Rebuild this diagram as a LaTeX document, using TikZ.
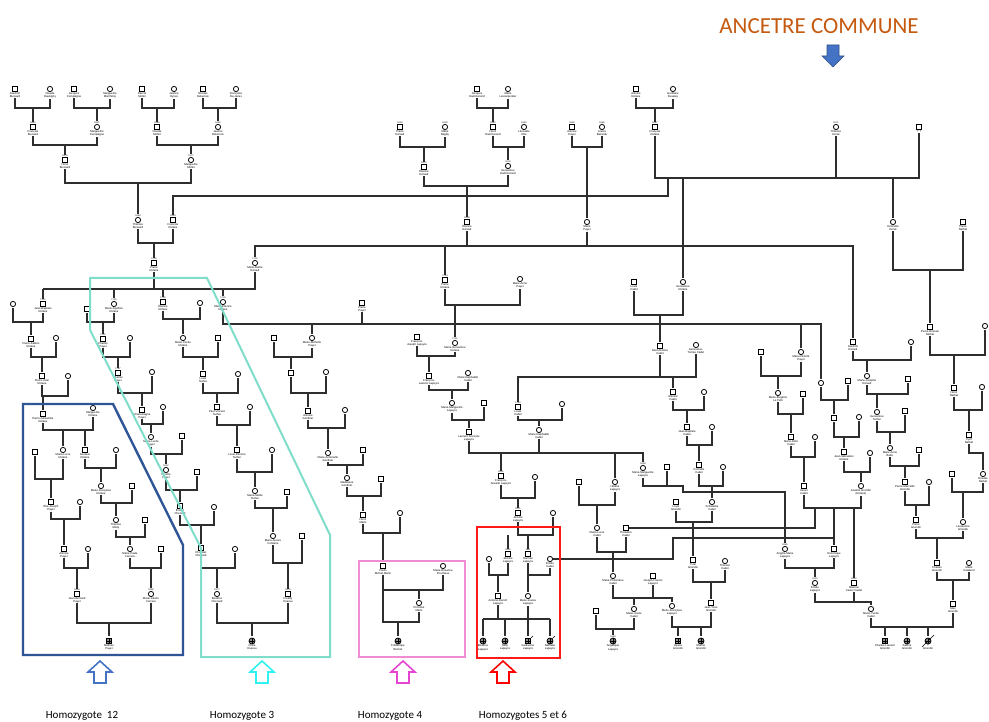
\documentclass[tikz,border=0pt]{standalone}
\usepackage{fontspec}
\setmainfont{Liberation Sans}
\newfontfamily\carl{Carlito}
\definecolor{lnc}{HTML}{2E2E2E}
\definecolor{bluebox}{HTML}{2F5597}
\definecolor{tealbox}{HTML}{7FDDC9}
\definecolor{pinkbox}{HTML}{F08CD4}
\definecolor{redbox}{HTML}{FF1A1A}
\definecolor{arrblue}{HTML}{4472C4}
\definecolor{arrcyan}{HTML}{2EF2F2}
\definecolor{arrmag}{HTML}{E545D0}
\definecolor{anc}{HTML}{C55A11}
\tikzset{
 sym/.style={draw=black, line width=0.8pt, fill=white, inner sep=0pt},
 male/.style={sym, rectangle, minimum size=4.8pt},
 female/.style={sym, circle, minimum size=5.2pt},
 crossed/.style={path picture={\draw[line width=0.5pt, black] (path picture bounding box.north) -- (path picture bounding box.south) (path picture bounding box.west) -- (path picture bounding box.east);}},
 amale/.style={male, minimum size=5.6pt, fill=black!45, crossed},
 afemale/.style={female, minimum size=6pt, fill=black!45, crossed},
 lab/.style={anchor=north, inner sep=0.25pt, align=center, font=\fontsize{2.8}{3.1}\selectfont},
 yr/.style={anchor=south, inner sep=0.25pt, font=\fontsize{2.3}{2.5}\selectfont},
 ln/.style={draw=lnc, line width=1.1pt},
}
\newcommand{\Per}[5]{\node[#1] (#2) at (#3) {}; \node[yr] (#2y) at (#2.north) {#4}; \node[lab] (#2l) at (#2.south) {#5};}
\newcommand{\Mar}[3]{\draw[ln] (#1l.south) -- (#1l.south |- 0,#3) -- (#2l.south |- 0,#3) -- (#2l.south);}
\newcommand{\Kid}[2]{\draw[ln] (#1y.north |- 0,#2) -- (#1y.north);}
\newcommand{\UpArrow}[2]{\draw[#2, line width=1.6pt, line join=miter] (#1,661) -- ++(12,11) -- ++(-6,0) -- ++(0,11) -- ++(-12,0) -- ++(0,-11) -- ++(-6,0) -- cycle;}
\begin{document}
\begin{tikzpicture}[x=1pt,y=-1pt]
\fill[white] (0,0) rectangle (989,722);
\useasboundingbox (0,0) rectangle (989,722);

% ---------- top generations (left)
\Per{male}{g1}{15,89}{}{Joachim\\Bussard}
\Per{female}{g2}{50,89}{}{Claude\\Daubigny}
\Per{male}{g3}{74,89}{}{Jacques\\Compiègne}
\Per{female}{g4}{110,89}{}{Marguerite\\Monthény}
\Per{male}{g5}{142,89}{}{Pascal\\Mollet}
\Per{female}{g6}{174,89}{}{Jeanne\\Hynes}
\Per{male}{g7}{203,89}{}{Nicolas\\Delacroix}
\Per{female}{g8}{236,89}{}{Françoise\\Da Janes}
\Per{male}{p1}{33,127}{1640}{François\\Bussard}
\Per{female}{p2}{97,127}{1641}{Marguerite\\Compiègne}
\Per{male}{p3}{157,127}{1646}{Claude\\Mollet}
\Per{female}{p4}{218,127}{1650}{Jeanne\\Delacroix}
\Per{male}{q1}{65,160}{1676}{Henri\\Bussard}
\Per{female}{q2}{191,160}{1677}{Marguerite\\Mollet}
\Per{female}{r1}{138,220}{1698}{Thérèse\\Bussard}
\Per{male}{r2}{173,220}{1693}{François\\Rolane}
\Mar{g1}{g2}{108}\Kid{p1}{108}
\Mar{g3}{g4}{108}\Kid{p2}{108}
\Mar{g5}{g6}{108}\Kid{p3}{108}
\Mar{g7}{g8}{108}\Kid{p4}{108}
\Mar{p1}{p2}{145}\Kid{q1}{145}
\Mar{p3}{p4}{145}\Kid{q2}{145}
\Mar{q1}{q2}{183}\Kid{r1}{183}

% ---------- top generations (centre / right)
\Per{male}{h1}{400,127}{1630}{Pierre\\Hérault}
\Per{female}{h2}{445,127}{1630}{Marie\\Bagby}
\Per{male}{h3}{477,89}{}{Jacques\\Dammerond}
\Per{female}{h4}{508,89}{}{Marie\\Lescarpentier}
\Per{male}{h5}{493,127}{1640}{Henri\\Dammerond}
\Per{female}{h6}{524,127}{1640}{Léocadie\\Otte}
\Per{male}{h7}{424,167}{1670}{Étienne\\Hérault}
\Per{female}{h8}{508,166}{1675}{Geneviève\\Dammerond}
\Per{male}{h9}{467,222}{1698}{Étienne\\Hérault}
\Per{male}{pa1}{572,127}{1660}{Antoine\\Payet}
\Per{female}{pa2}{602,127}{1665}{Louise\\Bazarde}
\Per{female}{pa3}{587,222}{}{Marie\\Payet}
\Per{male}{ro1}{636,89}{}{Antoine\\Rolane}
\Per{female}{ro2}{673,89}{}{Gordiane\\Rusaley}
\Per{male}{ro3}{655,127}{1667}{François\\Rolane}
\Per{female}{tv}{836,127}{1671}{Thérèse\\Hervé}
\Per{male}{xx}{919,127}{}{? ?}
\Per{female}{gen}{683,282}{}{Geneviève\\Rolane}
\Per{female}{hh}{893,222}{}{Henriette\\Hervé}
\Per{male}{pn}{963,222}{}{Pierre\\Nathal}
\Per{male}{prn}{930,327}{}{Pierre-Romain\\Nathal}
\Per{female}{prnw}{985,326}{}{}
\Mar{h3}{h4}{108}\Kid{h5}{108}
\Mar{h1}{h2}{147}\Kid{h7}{147}
\Mar{h5}{h6}{147}\Kid{h8}{147}
\Mar{h7}{h8}{186}\Kid{h9}{186}
\Mar{pa1}{pa2}{147}\Kid{pa3}{147}
\Mar{ro1}{ro2}{108}\Kid{ro3}{108}
\draw[ln] (ro3l.south) -- (ro3l.south |- 0,178) -- (xxl.south |- 0,178) -- (xxl.south);
\draw[ln] (tvl.south) -- (tvl.south |- 0,178);
\Kid{gen}{178}\Kid{hh}{178}
\coordinate (j1) at (668,178);
\draw[ln] (j1) -- (j1 |- 0,196) -- (r2y.north |- 0,196) -- (r2y.north);
\Mar{hh}{pn}{270}\Kid{prn}{270}

% ---------- Rolane family
\Per{male}{pr}{154,263}{1700}{Pierre\\Rolane}
\Per{female}{mb}{255,263}{1702}{Marie-Barbe\\Hérault}
\Per{male}{jb}{43,304}{1722}{Jean-Baptiste\\Rolane}
\Per{female}{ma}{114,304}{1725}{Marie-Apolline\\Rolane}
\Per{male}{er}{163,302}{1728}{Étienne\\Rolane}
\Per{female}{me}{223,302}{1730}{Marie-Étienne\\Rolane}
\Per{male}{pr2}{445,280}{1724}{Pierre\\Rolane}
\Per{male}{jh}{853,342}{}{Joachim\\Hérault}
\Mar{r1}{r2}{243}\Kid{pr}{243}
\draw[ln] (mby.north) -- (mby.north |- 0,246) -- (jhy.north |- 0,246) -- (jhy.north);
\draw[ln] (h9l.south) -- (h9l.south |- 0,246);
\draw[ln] (pa3l.south) -- (pa3l.south |- 0,246);
\Kid{pr2}{246}
\draw[ln] (prl.south) -- (prl.south |- 0,289);
\draw[ln] (mbl.south) -- (mbl.south |- 0,289) -- (jby.north |- 0,289);
\Kid{jb}{289}\Kid{ma}{289}\Kid{er}{289}\Kid{me}{289}

% ---------- column 1
\Per{female}{jbw}{13,304}{}{}
\Mar{jbw}{jb}{322}
\Per{male}{pf}{31,339}{}{Pierre-Fabien\\Rolane}
\Kid{pf}{322}
\Per{female}{pfw}{56,338}{}{}
\Mar{pf}{pfw}{357}
\Per{male}{pj}{42,376}{}{Pierre-Jean\\Rolane}
\Kid{pj}{357}
\Per{female}{pjw}{68,376}{}{}
\Mar{pj}{pjw}{396}
\Per{male}{pal}{43,414}{}{Pierre-Alexandre\\Rolane}
\Kid{pal}{396}
\Per{female}{mgr}{93,408}{}{Marguerite\\Rolane}
\Mar{pal}{mgr}{430}
\Per{female}{ml}{63,450}{}{Marie-Lucie\\Rolane}
\Per{male}{gr}{85,450}{}{Gustave\\Rolane}
\Kid{ml}{430}\Kid{gr}{430}
\Per{male}{mlh}{35,452}{}{}
\Mar{mlh}{ml}{479}
\Per{male}{ej}{51,502}{}{Élie-Joseph\\Payet}
\Kid{ej}{479}
\Per{female}{ejw}{80,502}{}{}
\Mar{ej}{ejw}{519}
\Per{male}{ap}{64,549}{}{Antoine\\Payet}
\Kid{ap}{519}
\Per{female}{apw}{88,549}{}{}
\Mar{ap}{apw}{568}
\Per{male}{jbp}{77,594}{1956}{Jean-Bernard\\Payet}
\Kid{jbp}{568}
\Per{female}{grw}{116,450}{}{}
\Mar{gr}{grw}{468}
\Per{female}{mfr}{101,486}{}{Marie-Françoise\\Rolane}
\Kid{mfr}{468}
\Per{male}{mfh}{132,486}{}{}
\Mar{mfr}{mfh}{503}
\Per{female}{tm}{116,520}{}{Thérèse\\Moity}
\Kid{tm}{503}
\Per{male}{tmh}{145,520}{}{}
\Mar{tm}{tmh}{537}
\Per{female}{mp}{130,549}{}{Marie-Paule\\Ferrara}
\Kid{mp}{537}
\Per{male}{mph}{161,549}{}{}
\Mar{mp}{mph}{568}
\Per{female}{mlf}{151,594}{1958}{Marie-Liliane\\Ferrara}
\Kid{mlf}{568}
\Mar{jbp}{mlf}{623}
\Per{amale}{mat}{109,641}{}{Mathieu\\Payet}
\Kid{mat}{623}

% ---------- column 2
\Per{male}{maw}{87,309}{}{}
\Mar{maw}{ma}{322}
\Per{male}{cp1}{103,339}{1752}{Charles\\Payet}
\Kid{cp1}{322}
\Per{female}{cp1w}{130,338}{}{}
\Mar{cp1}{cp1w}{357}
\Per{male}{cp2}{118,373}{1787}{Charles\\Payet}
\Kid{cp2}{357}
\Per{female}{cp2w}{152,372}{}{}
\Mar{cp2}{cp2w}{393}
\Per{male}{chp}{142,410}{}{Charlemagne\\Payet}
\Kid{chp}{393}
\Per{female}{chpw}{163,407}{}{}
\Mar{chp}{chpw}{424}
\Per{female}{mlp}{151,437}{}{Marie-Lucile\\Payet}
\Kid{mlp}{424}
\Per{male}{mlpw}{182,436}{}{}
\Mar{mlp}{mlpw}{454}
\Per{female}{lp}{166,470}{1907}{Lucette\\Payet}
\Kid{lp}{454}
\Per{male}{lph}{197,472}{}{}
\Mar{lp}{lph}{490}
\Per{male}{ec}{180,506}{}{Ernest\\Chenard}
\Kid{ec}{490}
\Per{female}{ecw}{214,507}{}{}
\Mar{ec}{ecw}{525}
\Per{male}{cc}{201,548}{}{Christian\\Chenard}
\Kid{cc}{525}
\Per{female}{ccw}{235,549}{}{}
\Mar{cc}{ccw}{568}
\Per{female}{bc}{217,594}{1977}{Béatrice\\Chenard}
\Kid{bc}{568}
\Per{male}{fh}{288,594}{1975}{Freddy\\Hoarau}
\Mar{bc}{fh}{623}
\Per{afemale}{cla}{252,641}{}{Clara\\Hoarau}
\Kid{cla}{623}

% ---------- column 3
\Per{female}{erw}{200,303}{}{}
\Mar{er}{erw}{319}
\Per{female}{mc}{183,338}{}{Marie-Cécile\\Rolane}
\Kid{mc}{319}
\Per{male}{mch}{218,338}{}{}
\Mar{mc}{mch}{357}
\Per{male}{lt}{203,374}{}{Louis\\Tacher}
\Kid{lt}{357}
\Per{female}{ltw}{238,374}{}{}
\Mar{lt}{ltw}{393}
\Per{male}{pv}{217,407}{}{Paul-Vincent\\Tacher}
\Kid{pv}{393}
\Per{female}{pvw}{250,407}{}{}
\Mar{pv}{pvw}{425}
\Per{male}{let}{237,450}{}{Louis-Étienne\\Tacher}
\Kid{let}{425}
\Per{female}{letw}{272,450}{}{}
\Mar{let}{letw}{472}
\Per{female}{mme}{255,491}{}{Marie-Mellie\\Tacher}
\Kid{mme}{472}
\Per{male}{mmeh}{287,492}{}{}
\Mar{mme}{mmeh}{508}
\Per{female}{maf}{273,536}{}{Marie-Aurore\\Fontaine}
\Kid{maf}{508}
\Per{male}{mafh}{302,536}{}{}
\Mar{maf}{mafh}{563}
\Kid{fh}{563}

% ---------- column 4 (Payet / Gonthier / Marin)
\Per{male}{pp}{362,303}{}{Pierre\\Payet}
\Per{female}{cx}{821,383}{}{}
\draw[ln] (mel.south) -- (mel.south |- 0,324) -- (cxy.north |- 0,324) -- (cxy.north);
\draw[ln] (ppl.south) -- (ppl.south |- 0,324);
\Per{female}{mmp}{312,338}{}{Marie-Michelle\\Payet}
\Per{female}{mgp}{801,352}{}{Marie-Félicité\\Payet}
\Kid{mmp}{324}\Kid{mgp}{324}
\Per{male}{mmph}{274,338}{}{}
\Mar{mmph}{mmp}{357}
\Per{male}{ag1}{291,373}{}{}
\Kid{ag1}{357}
\Per{female}{ag1w}{326,372}{}{}
\Mar{ag1}{ag1w}{393}
\Per{male}{ag}{308,411}{}{Antoine\\Gonthier}
\Kid{ag}{393}
\Per{female}{agw}{345,410}{}{}
\Mar{ag}{agw}{428}
\Per{female}{mag}{328,453}{}{Marie-Antoinette\\Gonthier}
\Kid{mag}{428}
\Per{male}{magh}{363,450}{}{}
\Mar{mag}{magh}{465}
\Per{female}{mdg}{347,478}{}{Madeleine\\Gonthier}
\Kid{mdg}{465}
\Per{male}{mdgh}{381,479}{}{}
\Mar{mdg}{mdgh}{496}
\Per{male}{hm}{363,515}{}{Henri\\Marin}
\Kid{hm}{496}
\Per{female}{hmw}{400,513}{}{}
\Mar{hm}{hmw}{533}
\Per{male}{fm}{383,566}{}{Fredo\\Michel-Marin}
\Kid{fm}{533}
\Per{female}{mrp}{443,566}{}{Marie-Rosanne\\Pouchaux}
\Mar{fm}{mrp}{590}
\Per{female}{cm}{419,603}{}{Christine\\Marin}
\Kid{cm}{590}
\Mar{fm}{cm}{622}
\Per{afemale}{fb}{398,641}{}{Frédérique\\Bonnet}
\Kid{fb}{622}

% ---------- Lapeyre
\Per{female}{map}{520,279}{}{Marie-Anne\\Payet}
\Mar{pr2}{map}{305}
\Per{female}{mgr2}{455,343}{1751}{Marie-Geneviève\\Rolane}
\Kid{mgr2}{305}
\Per{male}{fjl}{417,337}{}{François-\\Joseph Lapeyre}
\Mar{fjl}{mgr2}{356}
\Per{male}{fll}{429,376}{}{François-\\Laurent Lapeyre}
\Kid{fll}{356}
\Per{female}{mrc}{468,373}{}{Marie-Raphaëlle\\Cadet}
\Mar{fll}{mrc}{390}
\Per{female}{mml}{452,403}{}{Marie-Marguerite\\Lapeyre}
\Kid{mml}{390}
\Per{male}{mmlh}{484,403}{}{}
\Mar{mml}{mmlh}{420}
\Per{male}{lfl}{469,432}{}{Laurent-François\\Lapeyre}
\Kid{lfl}{420}
\Per{male}{lc2}{518,407}{1740}{Louis\\Cadet}
\Per{female}{lc2w}{562,404}{}{}
\Mar{lc2}{lc2w}{420}
\Per{female}{mrc2}{539,430}{}{Marie-Raphaëlle\\Cadet}
\Kid{mrc2}{420}
\Per{male}{fal}{501,476}{1801}{François-\\Anatole Lapeyre}
\Per{female}{hl}{615,482}{}{Hélène\\Lapeyre}
\Per{female}{mml2}{643,468}{1838}{Marie-Marguerite\\Lapeyre}
\Mar{lfl}{mrc2}{453}
\draw[ln] (mrc2l.south |- 0,453) -- (mml2y.north |- 0,453) -- (mml2y.north);
\Kid{fal}{453}\Kid{hl}{453}
\Per{female}{falw}{535,477}{}{}
\Mar{fal}{falw}{498}
\Per{male}{jl1}{518,513}{1871}{Jérôme\\Lapeyre}
\Kid{jl1}{498}
\Per{female}{jl1w}{553,513}{}{}
\Mar{jl1}{jl1w}{535}
\Per{male}{jl2}{508,554}{1901}{Jérôme\\Lapeyre}
\Per{male}{hrm}{528,554}{1911}{Herman\\Lapeyre}
\Kid{jl2}{535}\Kid{hrm}{535}
\Per{female}{ecd}{550,559}{}{Émilie\\Cadet}
\Per{female}{jl2w}{489,559}{}{}
\Mar{jl2w}{jl2}{575}
\Per{male}{abl}{498,596}{}{Antoine-Benoît\\Lapeyre}
\Kid{abl}{575}
\Mar{hrm}{ecd}{575}
\Per{female}{mlo}{528,596}{}{Marie-Louise\\Lapeyre}
\Kid{mlo}{575}
\Per{afemale}{bl}{483,641}{}{Béatrice\\Lapeyre}
\Per{afemale}{nl}{505,641}{}{Nelly\\Lapeyre}
\Per{amale}{gl}{528,641}{}{Guillaume\\Lapeyre}
\Per{afemale}{nth}{550,641}{}{Nathalie\\Lapeyre}
\Mar{abl}{mlo}{619}
\draw[ln] (bly.north |- 0,619) -- (nthy.north |- 0,619);
\Kid{bl}{619}\Kid{nl}{619}\Kid{gl}{619}\Kid{nth}{619}
\draw[line width=0.6pt] (gl) -- ++(5,-5);
\draw[line width=0.6pt] (nth) -- ++(5,-5);

% ---------- Cadet
\Per{male}{lc}{634,282}{}{Louis\\Cadet}
\Mar{lc}{gen}{315}
\Per{male}{na}{660,346}{}{Noël-Antoine\\Cadet}
\Kid{na}{315}
\Per{female}{gtc}{696,345}{}{Geneviève-\\Tomée Cadet}
\Mar{na}{gtc}{377}
\draw[ln] (nal.south |- 0,377) -- (lc2y.north |- 0,377) -- (lc2y.north);
\Per{male}{ac}{673,392}{}{Antoine\\Cadet}
\Kid{ac}{377}
\Per{female}{acw}{704,392}{}{}
\Mar{ac}{acw}{410}
\Per{male}{jbc}{687,427}{}{Jean-Baptiste\\Cadet}
\Kid{jbc}{410}
\Per{female}{jbcw}{712,427}{}{}
\Mar{jbc}{jbcw}{445}
\Per{male}{cc2}{699,465}{}{Corneille\\Cadet}
\Kid{cc2}{445}
\Per{female}{cc2w}{723,467}{}{}
\Mar{cc2}{cc2w}{486}
\Per{female}{sc}{712,502}{}{Scholastie\\Cadet}
\Kid{sc}{486}
\Per{male}{lg}{676,502}{}{Louis\\Grondin}
\Mar{lg}{sc}{522}
\Per{male}{yg}{693,560}{}{Yvan\\Grondin}
\Kid{yg}{522}
\Per{female}{tg}{725,561}{}{Thérèse\\Cadet}
\Mar{yg}{tg}{582}
\Per{male}{jyg}{711,603}{}{Jean-Yves\\Grondin}
\Kid{jyg}{582}
\Per{female}{mfl}{672,606}{}{Marie-Françoise\\Lapeyre}
\Mar{mfl}{jyg}{627}
\Per{amale}{ug}{678,641}{}{Ulysse\\Grondin}
\Per{afemale}{mg}{701,641}{}{Marine\\Grondin}
\Kid{ug}{627}\Kid{mg}{627}

\Per{male}{mmh2}{667,467}{}{}
\Mar{mml2}{mmh2}{486}
\Per{female}{aml}{785,549}{1895}{Angèle-Marie\\Lapeyre}
\coordinate (j2) at (683,486);
\draw[ln] (mmh2l.south |- 0,486) -- (j2) -- (j2 |- 0,492) -- (amly.north |- 0,492) -- (amly.north);
\Per{male}{dl}{834,549}{}{Dominique\\Lapeyre}
\Mar{aml}{dl}{568}
\Per{female}{el}{815,583}{1920}{Émilie\\Lapeyre}
\Kid{el}{568}
\Per{male}{mxc}{854,583}{1912}{Maurice\\Xavier Cadet}
\Per{female}{myc}{871,609}{}{Marie-Yvette\\Cadet}
\Mar{el}{mxc}{602}
\draw[ln] (mxcl.south |- 0,602) -- (mycy.north |- 0,602) -- (mycy.north);
\Per{male}{mg2}{953,604}{}{Max\\Grondin}
\Mar{myc}{mg2}{627}
\Per{amale}{clg}{885,641}{}{Charles-Laurent\\Grondin}
\Per{afemale}{sg}{907,641}{}{Sabine\\Grondin}
\Per{afemale}{xg}{928,641}{}{?\\Grondin}
\Kid{clg}{627}\Kid{sg}{627}\Kid{xg}{627}
\draw[line width=0.6pt] (xg) ++(-6,6) -- ++(12,-12);

% ---------- Xavier Cadet
\Per{male}{mfp}{761,352}{}{}
\Mar{mfp}{mgp}{376}
\Per{female}{meu}{778,393}{}{Marie-Eugénie\\Le Petit}
\Kid{meu}{376}
\Per{male}{meuh}{803,394}{}{}
\Mar{meu}{meuh}{414}
\Per{male}{mfc}{791,437}{}{Marie-Félix\\Cadet}
\Kid{mfc}{414}
\Per{female}{mfcw}{815,437}{}{}
\Mar{mfc}{mfcw}{457}
\Per{male}{xc}{804,486}{}{Xavier\\Cadet}
\Kid{xc}{457}
\Per{male}{cxh}{848,381}{}{}
\Mar{cx}{cxh}{400}
\Per{male}{s1}{834,418}{}{}
\Kid{s1}{400}
\Per{female}{s1w}{859,417}{}{}
\Mar{s1}{s1w}{437}
\Per{male}{jsr}{844,452}{}{Jean-Sébastien\\Rolane}
\Kid{jsr}{437}
\Per{female}{jsrw}{870,453}{}{}
\Mar{jsr}{jsrw}{472}
\Per{female}{agr}{861,486}{}{Anatole Grondin\\(Rolane)}
\Kid{agr}{472}
\Mar{xc}{agr}{508}
\Per{male}{hlh}{579,482}{}{}
\Mar{hlh}{hl}{505}
\Per{female}{mlc}{597,528}{}{Marie-Lucie\\Cadet}
\Kid{mlc}{505}
\Per{male}{tc}{626,528}{}{Théodore\\Cadet}
\Mar{mlc}{tc}{552}
\coordinate (j3) at (815,508);
\draw[ln] (j3) -- (j3 |- 0,528) -- (tc.east);
\coordinate (j4) at (834,508);
\draw[ln] (j4) -- (dly.north);
\coordinate (j5) at (673,538);
\draw[ln] (j4 |- 0,538) -- (j5) -- (j5 |- 0,559) -- (ecd.east);
\Kid{mxc}{508}
\Per{female}{mph2}{613,576}{}{Marie-Philomène\\Cadet}
\Kid{mph2}{552}
\Per{male}{jfl}{653,576}{}{Joseph-Francis\\Lapeyre}
\Mar{mph2}{jfl}{598}
\draw[ln] (jfll.south |- 0,598) -- (mfly.north |- 0,598) -- (mfly.north);
\Per{female}{mjc}{634,609}{}{Marie-Josée\\Cadet}
\Kid{mjc}{598}
\Per{male}{mjch}{596,611}{}{}
\Mar{mjch}{mjc}{629}
\Per{afemale}{angl}{613,641}{1983}{Angélique\\Lapeyre}
\Kid{angl}{629}

% ---------- Hérault / Grondin / Nathal (right)
\Per{female}{jhw}{911,342}{}{}
\Mar{jh}{jhw}{360}
\Per{female}{mjh}{867,376}{}{Marie-Joséphe\\Hérault}
\Kid{mjh}{360}
\Per{male}{mjhh}{908,379}{}{}
\Mar{mjh}{mjhh}{394}
\Per{female}{gt}{877,412}{}{Geneviève\\Tacher}
\Kid{gt}{394}
\Per{male}{gth}{905,411}{}{}
\Mar{gt}{gth}{432}
\Per{female}{mab}{890,448}{}{Marie-Anne\\Babo}
\Kid{mab}{432}
\Per{male}{mabh}{919,450}{}{}
\Mar{mab}{mabh}{466}
\Per{male}{pmg}{905,482}{}{Pierre-Marcellin\\Grondin}
\Kid{pmg}{466}
\Per{female}{pmgw}{929,482}{}{}
\Mar{pmg}{pmgw}{505}
\Per{male}{pg}{916,520}{}{Pierre\\Grondin}
\Kid{pg}{505}
\Per{female}{lgr}{963,522}{}{Laurentine\\Grondin}
\Mar{pg}{lgr}{538}
\Per{male}{cg}{937,563}{}{Charles\\Grondin}
\Kid{cg}{538}
\Per{female}{cgw}{969,563}{}{Marie\\Calabent}
\Mar{cg}{cgw}{580}
\Kid{mg2}{580}
\Mar{prn}{prnw}{355}
\Per{male}{hn}{954,388}{}{Henri\\Nathal}
\Kid{hn}{355}
\Per{female}{hnw}{982,387}{}{}
\Mar{hn}{hnw}{410}
\Per{male}{cn}{969,435}{}{Cyril\\Nathal}
\Kid{cn}{410}
\Per{female}{rn}{983,474}{}{Rosalie\\Nathal}
\draw[ln] (cnl.south) -- (cnl.south |- 0,453) -- (rny.north |- 0,453) -- (rny.north);
\Per{male}{lgh}{952,474}{}{}
\Mar{lgh}{rn}{492}
\Kid{lgr}{492}

% ---------- highlight frames
\draw[bluebox, line width=2.4pt, line join=miter] (23,404) -- (113,404) -- (183,545) -- (183,655) -- (23,655) -- cycle;
\draw[tealbox, line width=2pt, line join=miter] (90,278) -- (207,278) -- (330,535) -- (330,657) -- (201,657) -- (201,548) -- (90,330) -- cycle;
\draw[pinkbox, line width=1.8pt] (359,561) rectangle (465,657);
\draw[redbox, line width=2.4pt] (477,527) rectangle (560,658);

% ---------- arrows and captions
\node[font=\carl\fontsize{23}{26}\selectfont, text=anc] (title) at (819,26) {ANCETRE COMMUNE};
\filldraw[fill=arrblue, draw=arrblue!70!black, line width=0.6pt] (827,45) -- (839,45) -- (839,56) -- (844,56) -- (833,67) -- (822,56) -- (827,56) -- cycle;
\UpArrow{100}{arrblue}
\UpArrow{262}{arrcyan}
\UpArrow{403}{arrmag}
\UpArrow{503}{red}
\node[font=\carl\fontsize{11}{13}\selectfont] (hz1) at (82,716) {Homozygote\ \ 12};
\node[font=\carl\fontsize{11}{13}\selectfont] (hz2) at (242,716) {Homozygote 3};
\node[font=\carl\fontsize{11}{13}\selectfont] (hz3) at (390,716) {Homozygote 4};
\node[font=\carl\fontsize{11}{13}\selectfont] (hz4) at (523,716) {Homozygotes 5 et 6};
\end{tikzpicture}
\end{document}
